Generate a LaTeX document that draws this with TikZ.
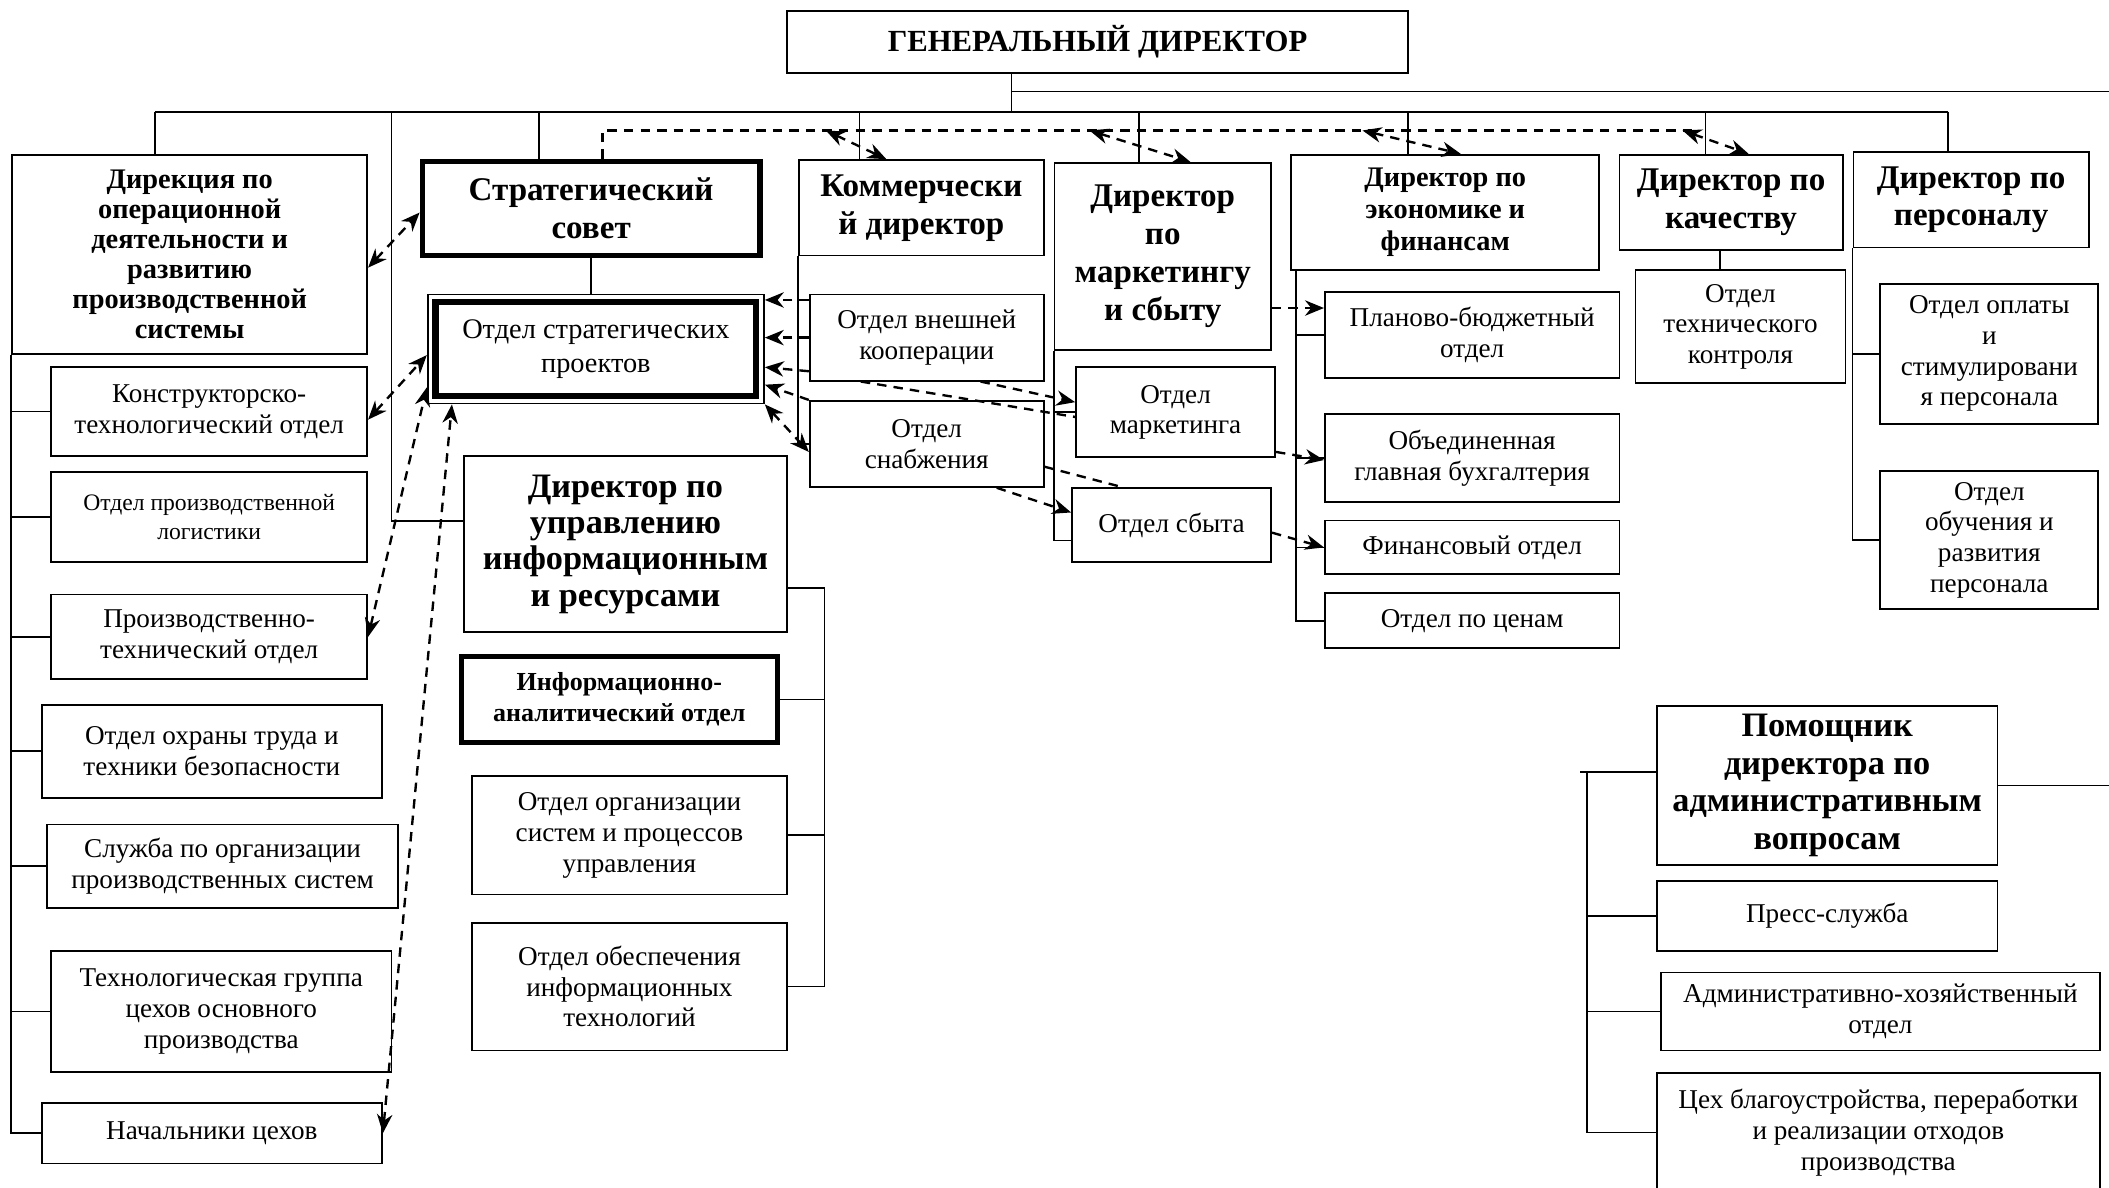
\documentclass[tikz,border=0pt]{standalone}
\usepackage{fontspec}
\setmainfont{Liberation Serif}
\usetikzlibrary{arrows.meta,calc}
\newcommand{\boxfont}{\fontsize{11.5}{13}\selectfont}
\newcommand{\headfont}{\fontsize{14}{16}\selectfont\bfseries}
\tikzset{
    box/.style={draw,align=center,inner sep=1pt,font=\boxfont},
    head/.style={box,font=\headfont},
    heavy/.style={line width=2.3pt},
    wh/.style 2 args={minimum width=#1*0.02cm,minimum height=#2*0.02cm},
    dsh/.style={dash pattern=on 4pt off 3pt,line width=1pt}
}
\begin{document}
\begin{tikzpicture}[x=0.02cm,y=-0.02cm,line width=0.75pt,>={Stealth[length=8pt,width=6.5pt]}]
        \useasboundingbox (0,0) rectangle (1568,883);
        \clip (0,0) rectangle (1568,883);
        \node[box,wh={462}{46},font=\fontsize{13}{15}\selectfont\bfseries] (gd) at (816,31) {ГЕНЕРАЛЬНЫЙ ДИРЕКТОР};
        \node[box,wh={264}{148},font=\fontsize{12}{12.7}\selectfont\bfseries] (dop) at (141,189)
            {Дирекция по\\операционной\\деятельности и\\развитию\\производственной\\системы};
        \foreach \n/\cx/\cy/\w/\h/\t in {
            ktd/155.5/306/235/66/{Конструкторско-\\технологический отдел},
            ptd/155.5/473.5/235/63/{Производственно-\\технический отдел},
            otb/157.5/558.5/253/69/{Отдел охраны труда и\\техники безопасности},
            sops/165.5/644/261/62/{Служба по организации\\производственных систем},
            tgc/164.5/752/253/90/{Технологическая группа\\цехов основного\\производства},
            nc/157.5/842.5/253/45/{Начальники цехов}}
        {
            \node[box,wh={\w}{\h}] (\n) at (\cx,\cy) {\t};
        }
        \node[box,wh={235}{67},font=\fontsize{10}{12}\selectfont] (opl) at (155.5,384.5) {Отдел производственной\\логистики};
        \node[head,heavy,wh={251}{70}] (ss) at (439.5,155) {Стратегический\\совет};
        \node[box,wh={250}{81},font=\fontsize{12}{14.7}\selectfont] (osp) at (443,259.5) {Отдел стратегических\\проектов};
        \node[draw,line width=2.8pt,wh={238}{70}] (ospin) at (osp.center) {};
        \node[head,wh={240}{131},font=\fontsize{14.5}{15.4}\selectfont\bfseries] (diu) at (465,404.5)
            {Директор по\\управлению\\информационным\\и ресурсами};
        \node[box,heavy,wh={235}{64},font=\fontsize{11}{13}\selectfont\bfseries] (iao) at (460.5,520) {Информационно-\\аналитический отдел};
        \node[box,wh={234}{88}] (osu) at (468,621) {Отдел организации\\систем и процессов\\управления};
        \node[box,wh={234}{95}] (oit) at (468,733.5) {Отдел обеспечения\\информационных\\технологий};
        \node[head,wh={182}{71}] (kd) at (685,154.5) {Коммерчески\\й директор};
        \node[box,wh={174}{64}] (ovk) at (689,251) {Отдел внешней\\кооперации};
        \node[box,wh={174}{64}] (osn) at (689,330) {Отдел\\снабжения};
        \node[head,wh={161}{139}] (dms) at (864.5,190.5) {Директор\\по\\маркетингу\\и сбыту};
        \node[box,wh={148}{67}] (om) at (874,306.5) {Отдел\\маркетинга};
        \node[box,wh={148}{55}] (osb) at (871,390.5) {Отдел сбыта};
        \node[box,wh={229}{86},font=\fontsize{12}{13.6}\selectfont\bfseries] (def) at (1074.5,158) {Директор по\\экономике и\\финансам};
        \node[box,wh={219}{64}] (pbo) at (1094.5,249) {Планово-бюджетный\\отдел};
        \node[box,wh={219}{65}] (ogb) at (1094.5,340.5) {Объединенная\\главная бухгалтерия};
        \node[box,wh={219}{40}] (fo) at (1094.5,407) {Финансовый отдел};
        \node[box,wh={219}{41}] (opc) at (1094.5,461.5) {Отдел по ценам};
        \node[head,wh={166}{71}] (dk) at (1287,150.5) {Директор по\\качеству};
        \node[box,wh={156}{84}] (otk) at (1294,243) {Отдел\\технического\\контроля};
        \node[head,wh={175}{71}] (dp) at (1465.5,148.5) {Директор по\\персоналу};
        \node[box,wh={162}{104}] (oos) at (1479,263) {Отдел оплаты\\и\\стимулировани\\я персонала};
        \node[box,wh={162}{103}] (oor) at (1479,401.5) {Отдел\\обучения и\\развития\\персонала};
        \node[head,wh={253}{118},font=\fontsize{14.5}{16}\selectfont\bfseries] (pda) at (1358.5,584)
            {Помощник\\директора по\\административным\\вопросам};
        \node[box,wh={253}{52}] (ps) at (1358.5,681) {Пресс-служба};
        \node[box,wh={326}{58}] (aho) at (1398,752) {Административно-хозяйственный\\отдел};
        \node[box,wh={329}{88}] (cbp) at (1396.5,842) {Цех благоустройства, переработки\\и реализации отходов\\производства};
        % solid links
        \coordinate (hub) at (752,83);
        \coordinate (rt) at (1568,68);
        \draw (gd.south -| hub) -- (hub);
        \draw (hub |- rt) -- (rt);
        \draw (115,83) -- (1448,83);
        \foreach \x/\n in {115/dop,401/ss,639/kd,847/dms,1047/def,1268/dk,1448/dp}
        {
            \draw (\x,83) -- (\x,83 |- \n.north);
        }
        \draw (291,83) |- ($(diu.north west)!0.37!(diu.south west)$);
        \draw (ss.south) -- (osp.north -| ss.south);
        \foreach \n in {ktd,opl,ptd,otb,sops,tgc,nc}
        {
            \draw (dop.south west) |- (\n.west);
        }
        \coordinate (isp) at (613,437);
        \draw (diu.east |- isp) -- (isp);
        \foreach \n in {iao,osu,oit}
        {
            \draw (isp) |- (\n.east);
        }
        \foreach \n in {ovk,osn}
        {
            \draw (kd.south west) |- (\n.west);
        }
        \draw (dms.south west) |- (om.west);
        \draw (dms.south west) |- ($(osb.north west)!0.7!(osb.south west)$);
        \foreach \n in {pbo,ogb,fo,opc}
        {
            \draw ([xshift=2.3pt]def.south west) |- (\n.west);
        }
        \draw (dk.south -| 1279,0) -- (otk.north -| 1279,0);
        \foreach \n in {oos,oor}
        {
            \draw (dp.south west) |- (\n.west);
        }
        \coordinate (asp) at (1180,574);
        \draw ([xshift=-3pt]asp) -- (asp -| pda.west);
        \foreach \n in {ps,aho,cbp}
        {
            \draw (asp) |- (\n.west);
        }
        \draw (pda.east) -- (pda.east -| rt);
        % dashed links
        \coordinate (dl) at (448,97);
        \coordinate (dr) at (1262,97);
        \draw[dsh] (dl |- ss.north) -- (dl) -- (dr);
        \foreach \a/\b/\n in {614/659/kd,810/885/dms,1013/1086/def,1251/1300/dk}
        {
            \draw[dsh,<->] (\a,97) -- (\b,0 |- \n.north);
        }
        \draw[dsh,<->] (dop.east |- 0,199) -- (ss.west |- 0,158);
        \draw[dsh,<->] (ktd.east |- 0,312) -- (osp.west |- 0,264);
        \draw[dsh,<->] (ptd.east) -- (osp.west |- 0,288);
        \draw[dsh,<->] (nc.east) -- (osp.south -| 336,0);
        \draw[dsh,->] (ovk.west |- 0,223) -- (osp.east |- 0,223);
        \draw[dsh,->] (ovk.west) -- (osp.east |- ovk.west);
        \draw[dsh,->] (ovk.west |- 0,276) -- (osp.east |- 0,273);
        \draw[dsh,->] (osn.north west) -- (osp.east |- 0,286);
        \draw[dsh,<->] (osp.south east) -- (osn.west |- 0,336);
        \draw[dsh] (ovk.south -| 640,0) -- (om.west |- 0,310);
        \draw[dsh,->] (ovk.south -| 729,0) -- (om.west |- 0,299);
        \draw[dsh] (osn.east |- 0,347) -- (osb.north -| 835,0);
        \draw[dsh,->] (osn.south -| 741,0) -- (osb.west |- 0,381);
        \draw[dsh,->] (dms.east |- 0,229) -- (pbo.west |- 0,229);
        \draw[dsh,->] (om.east |- 0,336) -- (ogb.west |- 0,342);
        \draw[dsh,->] (osb.east |- 0,396) -- (fo.west);
    \end{tikzpicture}
\end{document}
